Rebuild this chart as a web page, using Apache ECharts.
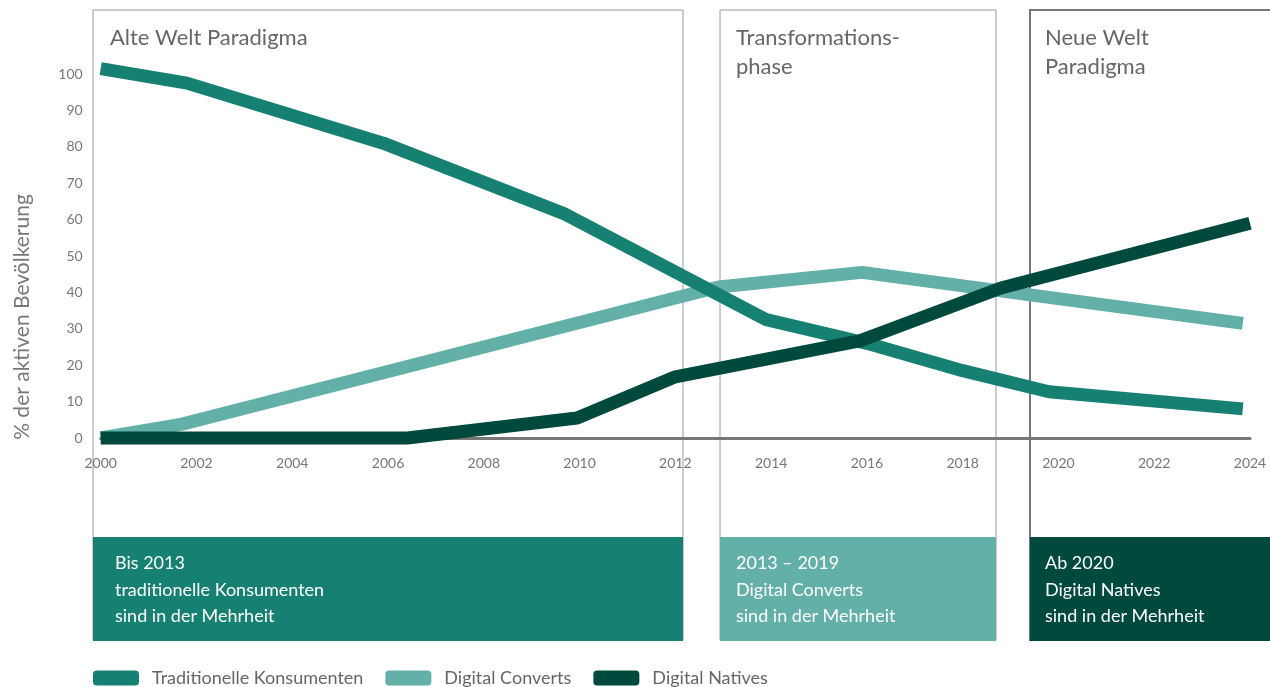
<!DOCTYPE html>
<html>
<head>
<meta charset="utf-8">
<script src="https://cdn.jsdelivr.net/npm/echarts@6/dist/echarts.min.js"></script>
<style>
  html, body { margin: 0; padding: 0; background: #fff; }
  #chart { width: 1270px; height: 687px; }
</style>
</head>
<body>
<div id="chart"></div>
<script>
// Werte: [Jahr, % der aktiven Bevölkerung]
const traditionelle = [[2000, 101.5], [2001.8, 97.5], [2005.9, 81], [2009.7, 61.5], [2013.9, 32.5], [2016, 26], [2018, 18.5], [2019.8, 12.7], [2023.85, 8]];
const converts = [[2000, 0], [2001.7, 3.8], [2012.9, 41.5], [2015.9, 45.5], [2023.85, 31.5]];
const natives = [[2000, 0], [2006.4, 0], [2009.95, 5.5], [2012, 16.8], [2015.85, 26.7], [2018.8, 41.2], [2024, 59]];

const seriesNames = ['Traditionelle Konsumenten', 'Digital Converts', 'Digital Natives'];
const colors = ['#168172', '#63b0a8', '#00493d'];

const phaseTitles = ['Alte Welt Paradigma', 'Transformations-\nphase', 'Neue Welt\nParadigma'];
const phaseTexts = [
  'Bis 2013\ntraditionelle Konsumenten\nsind in der Mehrheit',
  '2013 – 2019\nDigital Converts\nsind in der Mehrheit',
  'Ab 2020\nDigital Natives\nsind in der Mehrheit'
];

const font = 'Lato, "Open Sans", sans-serif';
const chart = echarts.init(document.getElementById('chart'));

// Rahmen und Phasenkästen
const boxes = [
  { x: 93, w: 590, stroke: '#9a9a9a', lw: 1, tx: 17, bx: 22 },
  { x: 720, w: 276, stroke: '#9a9a9a', lw: 1, tx: 16, bx: 16 },
  { x: 1030, w: 260, stroke: '#777777', lw: 2, tx: 15, bx: 15 }
];
const graphics = [];
boxes.forEach((b, i) => {
  graphics.push({
    type: 'rect', z: 0, silent: true,
    shape: { x: b.x, y: 10, width: b.w, height: 630 },
    style: { fill: 'none', stroke: b.stroke, lineWidth: b.lw }
  });
  graphics.push({
    type: 'rect', z: 1, silent: true,
    shape: { x: b.x, y: 537, width: b.w, height: 104 },
    style: { fill: colors[i] }
  });
  graphics.push({
    type: 'text', z: 3, x: b.x + b.tx, y: 23,
    style: { text: phaseTitles[i], fill: '#666', font: '22px ' + font, lineHeight: 29 }
  });
  graphics.push({
    type: 'text', z: 3, x: b.x + b.bx, y: 550,
    style: { text: phaseTexts[i], fill: '#fff', font: '18px ' + font, lineHeight: 26.5 }
  });
});
graphics.push({
  type: 'text', z: 3, x: 22, y: 317, rotation: Math.PI / 2,
  style: { text: '% der aktiven Bevölkerung', fill: '#777', font: '21px ' + font, align: 'center', verticalAlign: 'middle' }
});

const option = {
  backgroundColor: '#fff',
  animation: false,
  color: colors,
  textStyle: { fontFamily: font },
  grid: { left: 100.7, right: 20, top: 74, bottom: 249 },
  graphic: graphics,
  legend: {
    left: 88, top: 664, icon: 'roundRect', itemWidth: 46, itemHeight: 15, itemGap: 22,
    textStyle: { color: '#666', fontSize: 18, fontFamily: font, padding: [0, 0, 0, 8] },
    data: seriesNames
  },
  xAxis: {
    type: 'value', min: 2000, max: 2024, interval: 2, offset: 4,
    axisLine: { show: true, lineStyle: { color: '#777', width: 3 } },
    axisTick: { show: false },
    splitLine: { show: false },
    axisLabel: { color: '#777', fontSize: 14, margin: 14, formatter: v => String(v) }
  },
  yAxis: {
    type: 'value', min: 0, max: 100, interval: 10,
    axisLine: { show: false },
    axisTick: { show: false },
    splitLine: { show: false },
    axisLabel: { color: '#777', fontSize: 14, margin: 18 }
  },
  series: [
    { name: seriesNames[0], type: 'line', data: traditionelle },
    { name: seriesNames[1], type: 'line', data: converts },
    { name: seriesNames[2], type: 'line', data: natives }
  ].map(s => Object.assign(s, {
    showSymbol: false, symbol: 'none', clip: false, z: 2,
    lineStyle: { width: 13, cap: 'butt', join: 'round' }
  }))
};
// Zeichenreihenfolge wie im Original: Converts unten, Traditionelle darüber, Natives oben
option.series[1].z = 2;
option.series[0].z = 3;
option.series[2].z = 4;

chart.setOption(option);
</script>
</body>
</html>
